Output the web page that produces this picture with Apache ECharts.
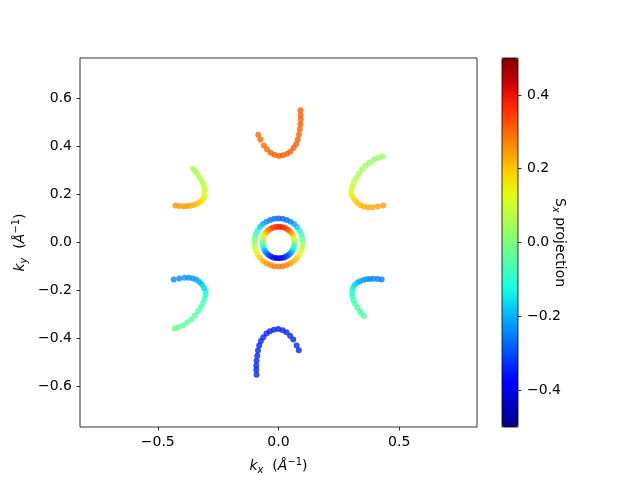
<!DOCTYPE html>
<html><head><meta charset="utf-8">
<script src="https://cdn.jsdelivr.net/npm/echarts@6/dist/echarts.min.js"></script>
<style>html,body{margin:0;padding:0;background:#fff}#c{width:640px;height:480px}</style>
</head><body><div id="c"></div>
<script>
// [kx, ky, Sx]
const outerRing = [
[0.1,0,0.02],[0.0985,0.0174,-0.03],[0.094,0.0342,-0.08],[0.0866,0.05,-0.13],[0.0766,0.0643,-0.17],[0.0643,0.0766,-0.21],[0.05,0.0866,-0.24],[0.0342,0.094,-0.26],[0.0174,0.0985,-0.27],
[0,0.1,-0.28],[-0.0174,0.0985,-0.27],[-0.0342,0.094,-0.26],[-0.05,0.0866,-0.24],[-0.0643,0.0766,-0.21],[-0.0766,0.0643,-0.17],[-0.0866,0.05,-0.13],[-0.094,0.0342,-0.08],[-0.0985,0.0174,-0.03],
[-0.1,0,0.02],[-0.0985,-0.0174,0.07],[-0.094,-0.0342,0.11],[-0.0866,-0.05,0.15],[-0.0766,-0.0643,0.19],[-0.0643,-0.0766,0.22],[-0.05,-0.0866,0.25],[-0.0342,-0.094,0.27],[-0.0174,-0.0985,0.28],
[0,-0.1,0.28],[0.0174,-0.0985,0.28],[0.0342,-0.094,0.27],[0.05,-0.0866,0.25],[0.0643,-0.0766,0.22],[0.0766,-0.0643,0.19],[0.0866,-0.05,0.15],[0.094,-0.0342,0.11],[0.0985,-0.0174,0.07]
];
const innerRing = [
[0.066,0,0],[0.065,0.0115,0.066],[0.062,0.0226,0.13],[0.0572,0.033,0.19],[0.0506,0.0424,0.244],[0.0424,0.0506,0.291],[0.033,0.0572,0.329],[0.0226,0.062,0.357],[0.0115,0.065,0.374],
[0,0.066,0.38],[-0.0115,0.065,0.374],[-0.0226,0.062,0.357],[-0.033,0.0572,0.329],[-0.0424,0.0506,0.291],[-0.0506,0.0424,0.244],[-0.0572,0.033,0.19],[-0.062,0.0226,0.13],[-0.065,0.0115,0.066],
[-0.066,0,0],[-0.065,-0.0115,-0.066],[-0.062,-0.0226,-0.13],[-0.0572,-0.033,-0.19],[-0.0506,-0.0424,-0.244],[-0.0424,-0.0506,-0.291],[-0.033,-0.0572,-0.329],[-0.0226,-0.062,-0.357],[-0.0115,-0.065,-0.374],
[0,-0.066,-0.38],[0.0115,-0.065,-0.374],[0.0226,-0.062,-0.357],[0.033,-0.0572,-0.329],[0.0424,-0.0506,-0.291],[0.0506,-0.0424,-0.244],[0.0572,-0.033,-0.19],[0.062,-0.0226,-0.13],[0.065,-0.0115,-0.066]
];
const topArc = [
[-0.084,0.449,0.30],[-0.075,0.429,0.30],[-0.061,0.404,0.30],[-0.048,0.388,0.30],[-0.033,0.374,0.31],[-0.017,0.365,0.31],[0.001,0.360,0.31],[0.019,0.363,0.31],[0.036,0.369,0.31],[0.050,0.379,0.31],
[0.063,0.394,0.31],[0.073,0.410,0.31],[0.080,0.429,0.31],[0.085,0.450,0.31],[0.088,0.471,0.31],[0.091,0.492,0.31],[0.092,0.513,0.31],[0.092,0.531,0.31],[0.091,0.550,0.31]
];
const bottomArc = [
[0.084,-0.449,-0.34],[0.075,-0.429,-0.34],[0.061,-0.404,-0.34],[0.048,-0.388,-0.34],[0.033,-0.374,-0.34],[0.017,-0.365,-0.34],[-0.001,-0.360,-0.34],[-0.019,-0.363,-0.34],[-0.036,-0.369,-0.34],[-0.050,-0.379,-0.34],
[-0.063,-0.394,-0.34],[-0.073,-0.410,-0.34],[-0.080,-0.429,-0.34],[-0.085,-0.450,-0.34],[-0.088,-0.471,-0.34],[-0.091,-0.492,-0.34],[-0.092,-0.513,-0.34],[-0.092,-0.531,-0.34],[-0.091,-0.550,-0.34]
];
const upperRightArc = [
[0.430,0.358,0.03],[0.413,0.352,0.03],[0.395,0.345,0.03],[0.378,0.333,0.04],[0.361,0.321,0.04],[0.346,0.304,0.05],[0.333,0.286,0.05],[0.322,0.269,0.06],[0.312,0.251,0.07],[0.306,0.233,0.08],
[0.302,0.217,0.10],[0.302,0.202,0.13],[0.308,0.189,0.16],[0.317,0.175,0.18],[0.327,0.164,0.20],[0.340,0.155,0.21],[0.354,0.150,0.22],[0.371,0.147,0.23],[0.389,0.147,0.23],[0.411,0.150,0.24],[0.434,0.154,0.24]
];
const lowerLeftArc = [
[-0.430,-0.358,-0.03],[-0.413,-0.352,-0.03],[-0.395,-0.345,-0.03],[-0.378,-0.333,-0.04],[-0.361,-0.321,-0.04],[-0.346,-0.304,-0.05],[-0.333,-0.286,-0.05],[-0.322,-0.269,-0.06],[-0.312,-0.251,-0.07],[-0.306,-0.233,-0.08],
[-0.302,-0.217,-0.10],[-0.302,-0.202,-0.13],[-0.308,-0.189,-0.16],[-0.317,-0.175,-0.18],[-0.327,-0.164,-0.20],[-0.340,-0.155,-0.21],[-0.354,-0.150,-0.22],[-0.371,-0.147,-0.23],[-0.389,-0.147,-0.23],[-0.411,-0.150,-0.24],[-0.434,-0.154,-0.24]
];
const upperLeftArc = [
[-0.354,0.307,0.05],[-0.345,0.297,0.05],[-0.337,0.286,0.06],[-0.327,0.271,0.06],[-0.317,0.255,0.07],[-0.310,0.240,0.08],[-0.306,0.224,0.09],[-0.305,0.210,0.10],[-0.306,0.196,0.12],[-0.310,0.185,0.14],
[-0.317,0.175,0.16],[-0.327,0.167,0.18],[-0.337,0.161,0.20],[-0.351,0.156,0.22],[-0.365,0.153,0.23],[-0.379,0.152,0.24],[-0.393,0.151,0.24],[-0.411,0.152,0.25],[-0.427,0.154,0.25]
];
const lowerRightArc = [
[0.354,-0.307,-0.05],[0.345,-0.297,-0.05],[0.337,-0.286,-0.06],[0.327,-0.271,-0.06],[0.317,-0.255,-0.07],[0.310,-0.240,-0.08],[0.306,-0.224,-0.09],[0.305,-0.210,-0.10],[0.306,-0.196,-0.12],[0.310,-0.185,-0.14],
[0.317,-0.175,-0.16],[0.327,-0.167,-0.18],[0.337,-0.161,-0.20],[0.351,-0.156,-0.22],[0.365,-0.153,-0.23],[0.379,-0.152,-0.24],[0.393,-0.151,-0.24],[0.411,-0.152,-0.25],[0.427,-0.154,-0.25]
];
const xTicks = [-0.5, 0, 0.5];
const yTicks = [-0.6, -0.4, -0.2, 0, 0.2, 0.4, 0.6];
const cbTicks = [-0.4, -0.2, 0, 0.2, 0.4];
const jet = ['#000080','#0000c8','#0000ff','#0040ff','#0080ff','#00bfff','#15ffe2','#48ffaf','#7bff7b','#afff48','#e2ff15','#ffd200','#ff9700','#ff5c00','#ff2100','#c80000','#800000'];

const FONT = 'DejaVu Sans';
const fmt = v => (v < 0 ? '\u2212' : '') + Math.abs(v).toFixed(1);
const rich = {
  i: {fontStyle:'italic', fontSize:14, fontFamily:FONT, color:'#000'},
  t: {fontSize:14, fontFamily:FONT, color:'#000'},
  sub: {fontStyle:'italic', fontSize:10, fontFamily:FONT, color:'#000', padding:[8,0,0,0]},
  sup: {fontSize:10, fontFamily:FONT, color:'#000', padding:[0,0,8,0]}
};
const tickStyle = {show:true, length:3.5, lineStyle:{color:'#000', width:0.8}};
const labelStyle = {color:'#000', fontSize:14, fontFamily:FONT, margin:8, formatter:fmt};

const chart = echarts.init(document.getElementById('c'), null, {renderer:'canvas'});
const arcs = [outerRing, innerRing, topArc, bottomArc, upperRightArc, lowerLeftArc, upperLeftArc, lowerRightArc];
chart.setOption({
  animation:false,
  backgroundColor:'#fff',
  textStyle:{fontFamily:FONT},
  grid:[
    {left:80, top:58, width:397, height:369, show:true, borderColor:'#000', borderWidth:0.8, backgroundColor:'transparent'},
    {left:502, top:58, width:16, height:369, show:false}
  ],
  xAxis:[
    {gridIndex:0, type:'value', min:-0.822, max:0.822, axisLine:{show:false, onZero:false}, splitLine:{show:false},
     axisTick:Object.assign({customValues:xTicks}, tickStyle),
     axisLabel:Object.assign({customValues:xTicks}, labelStyle),
     name:'{i|k}{sub|x}{t|  (}{i|Å}{sup|\u22121}{t|)}', nameLocation:'middle', nameGap:30, nameMoveOverlap:false,
     nameTextStyle:{rich:rich}},
    {gridIndex:1, type:'value', show:false, min:0, max:1}
  ],
  yAxis:[
    {gridIndex:0, type:'value', min:-0.768, max:0.768, axisLine:{show:false, onZero:false}, splitLine:{show:false},
     axisTick:Object.assign({customValues:yTicks}, tickStyle),
     axisLabel:Object.assign({customValues:yTicks}, labelStyle),
     name:'{i|k}{sub|y}{t|  (}{i|Å}{sup|\u22121}{t|)}', nameLocation:'middle', nameGap:51, nameRotate:90, nameMoveOverlap:false,
     nameTextStyle:{rich:rich}},
    {gridIndex:1, type:'value', position:'right', min:-0.5, max:0.5, axisLine:{show:false, onZero:false}, splitLine:{show:false},
     axisTick:Object.assign({customValues:cbTicks}, tickStyle),
     axisLabel:Object.assign({customValues:cbTicks}, labelStyle, {margin:9}),
     name:'{t|S}{sub|x}{t| projection}', nameLocation:'middle', nameGap:33, nameRotate:-90, nameMoveOverlap:false,
     nameTextStyle:{rich:rich}}
  ],
  visualMap:{
    type:'continuous', min:-0.5, max:0.5, dimension:2, seriesIndex:[0,1,2,3,4,5,6,7],
    inRange:{color:jet}, left:502, top:58, itemWidth:16, itemHeight:369, padding:0,
    calculable:false, hoverLink:false, show:true, text:null, showLabel:false
  },
  graphic:[{type:'rect', shape:{x:502, y:58, width:16, height:369}, style:{fill:null, stroke:'#000', lineWidth:0.8}, z:100, silent:true}],
  series: arcs.map(d => ({
    type:'scatter', xAxisIndex:0, yAxisIndex:0, data:d, symbol:'circle', symbolSize:6,
    itemStyle:{opacity:0.8}, silent:true
  }))
});
</script></body></html>
